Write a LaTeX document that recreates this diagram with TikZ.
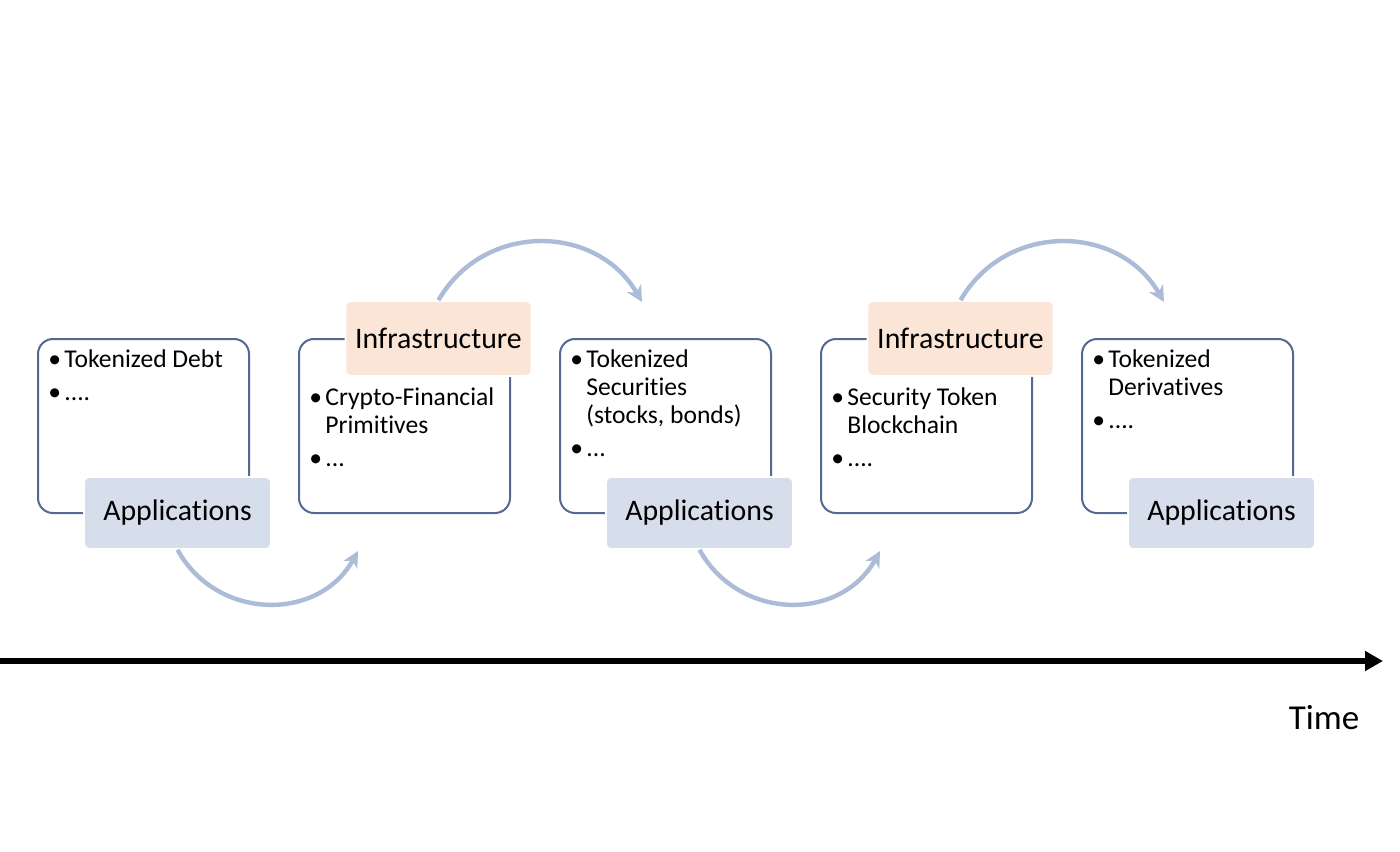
\documentclass[tikz,border=0pt]{standalone}
\usepackage{fontspec}
\setmainfont{Carlito}[Ligatures=NoCommon]
\usetikzlibrary{arrows.meta}
\definecolor{boxline}{RGB}{84,106,145}
\definecolor{appfill}{RGB}{214,222,236}
\definecolor{infrafill}{RGB}{251,229,214}
\definecolor{arcblue}{RGB}{172,188,216}
\newcommand{\bul}{\makebox[8pt][l]{•}}
\begin{document}
\begin{tikzpicture}[x=0.5pt,y=-0.5pt,
  mainbox/.style={draw=boxline, line width=1pt, rounded corners=7.5pt, fill=white,
    minimum width=105.5pt, minimum height=87pt, anchor=north west, inner sep=0pt},
  applabel/.style={fill=appfill, draw=white, line width=0.8pt, rounded corners=3pt,
    minimum width=93.5pt, minimum height=36pt, inner sep=0pt,
    font=\fontsize{14.9}{17}\selectfont},
  infralabel/.style={fill=infrafill, draw=white, line width=0.8pt, rounded corners=3pt,
    minimum width=93pt, minimum height=37.5pt, inner sep=0pt,
    font=\fontsize{14.9}{17}\selectfont},
  bodytext/.style={anchor=base west, inner sep=0pt, font=\fontsize{12.8}{14}\selectfont},
  flowarc/.style={draw=arcblue, line width=2.2pt, -{Stealth[length=8pt,width=8pt]}},
  timeaxis/.style={draw=black, line width=3pt, -{Triangle[length=9pt,width=9.5pt]}}
]
\useasboundingbox (0,0) rectangle (1400,851);
\fill[white] (0,0) rectangle (1400,851);

% main boxes
\node[mainbox] (b1) at (37,338) {};
\node[mainbox] (b2) at (298,338) {};
\node[mainbox] (b3) at (559,338) {};
\node[mainbox] (b4) at (820,338) {};
\node[mainbox] (b5) at (1081,338) {};

% box texts
\node[bodytext] (t1) at (48,367) {\begin{tabular}[t]{@{}l@{}l@{}}\bul&Tokenized Debt\\[2.5pt]\bul&....\end{tabular}};
\node[bodytext] (t2) at (309,405) {\begin{tabular}[t]{@{}l@{}l@{}}\bul&Crypto-Financial\\&Primitives\\[2.5pt]\bul&...\end{tabular}};
\node[bodytext] (t3) at (570,367) {\begin{tabular}[t]{@{}l@{}l@{}}\bul&Tokenized\\&Securities\\&(stocks, bonds)\\[2.5pt]\bul&...\end{tabular}};
\node[bodytext] (t4) at (831,405) {\begin{tabular}[t]{@{}l@{}l@{}}\bul&Security Token\\&Blockchain\\[2.5pt]\bul&....\end{tabular}};
\node[bodytext] (t5) at (1092,367) {\begin{tabular}[t]{@{}l@{}l@{}}\bul&Tokenized\\&Derivatives\\[2.5pt]\bul&....\end{tabular}};

% labels
\node[applabel] (a1) at (177.5,513) {Applications};
\node[infralabel] (i2) at (438.5,338.5) {Infrastructure};
\node[applabel] (a3) at (699.5,513) {Applications};
\node[infralabel] (i4) at (960.5,338.5) {Infrastructure};
\node[applabel] (a5) at (1221.5,513) {Applications};

% curved flow arrows
\coordinate (e1) at (358,551);
\coordinate (e2) at (642,302);
\coordinate (e3) at (880,551);
\coordinate (e4) at (1164,302);
\draw[flowarc] (a1.south) to[out=-61,in=-119,looseness=1.15] (e1);
\draw[flowarc] (i2.north) to[out=60,in=120,looseness=1.14] (e2);
\draw[flowarc] (a3.south) to[out=-61,in=-119,looseness=1.15] (e3);
\draw[flowarc] (i4.north) to[out=60,in=120,looseness=1.14] (e4);

% time axis
\coordinate (ts) at (0,661);
\coordinate (te) at (1383,661);
\draw[timeaxis] (ts) -- (te);
\node[font=\fontsize{17.5}{20}\selectfont, inner sep=0pt] (time) at (1324,718) {Time};
\end{tikzpicture}
\end{document}
